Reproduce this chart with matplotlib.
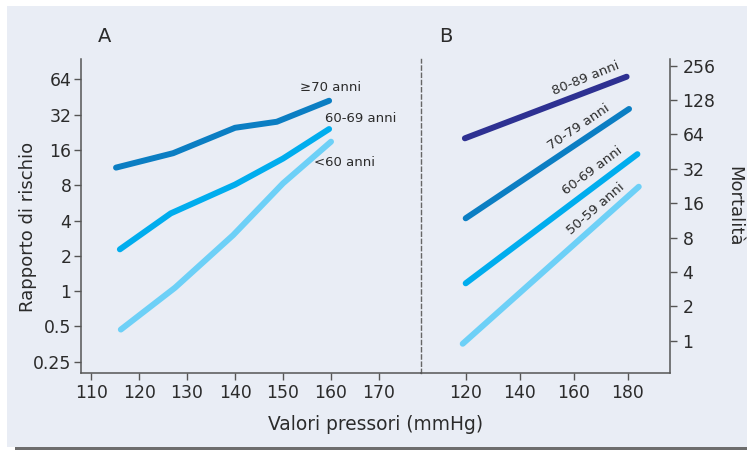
import matplotlib.pyplot as plt
from matplotlib.patches import Rectangle

# Pannello A - rapporto di rischio
a_x_70 = [115.2, 127.1, 140.0, 148.7, 159.6]
a_y_70 = [11.3, 15.0, 24.7, 27.8, 42.0]
a_x_6069 = [116.0, 126.6, 140.0, 150.0, 159.6]
a_y_6069 = [2.27, 4.6, 8.1, 13.5, 24.1]
a_x_60 = [116.2, 127.5, 139.6, 150.0, 160.0]
a_y_60 = [0.47, 1.07, 3.0, 8.3, 18.8]
a_ticks = [0.25, 0.5, 1, 2, 4, 8, 16, 32, 64]
a_ticklabels = ["0.25", "0.5", "1", "2", "4", "8", "16", "32", "64"]
a_xticks = [110, 120, 130, 140, 150, 160, 170]

# Pannello B - mortalità
b_x_8089 = [119.7, 179.6]
b_y_8089 = [59.2, 205.0]
b_x_7079 = [120.0, 180.5]
b_y_7079 = [11.8, 107.0]
b_x_6069 = [120.0, 183.6]
b_y_6069 = [3.18, 43.0]
b_x_5059 = [118.9, 184.1]
b_y_5059 = [0.94, 22.3]
b_ticks = [1, 2, 4, 8, 16, 32, 64, 128, 256]
b_xticks = [120, 140, 160, 180]

c_dark = "#0B7EC3"
c_mid = "#00ADEE"
c_light = "#6DD0F7"
c_indigo = "#2E3192"
bg = "#E9EDF5"
txt = "#2b2b2b"
spine_c = "#555555"

fig = plt.figure(figsize=(7.47, 4.5), dpi=100)
fig.patches.append(Rectangle((7/747, 3/450), 740/747, 441/450, transform=fig.transFigure,
                             facecolor=bg, edgecolor="none", zorder=-10))
fig.patches.append(Rectangle((15/747, 0), 732/747, 3/450, transform=fig.transFigure,
                             facecolor="#6D6D6D", edgecolor="none", zorder=-10))

axA = fig.add_axes([81/747, 77/450, 340/747, 314/450])
axB = fig.add_axes([421/747, 77/450, 249/747, 314/450])

lw = 4.3
for ax in (axA, axB):
    ax.set_facecolor("none")
    for s in ax.spines.values():
        s.set_color(spine_c)
        s.set_linewidth(1.1)
    ax.tick_params(colors=spine_c, labelcolor=txt, length=5, width=1.0, labelsize=12.4, pad=3)
    ax.set_yscale("log", base=2)
    ax.minorticks_off()

# A
axA.plot(a_x_70, a_y_70, color=c_dark, lw=lw, solid_capstyle="round", solid_joinstyle="round")
axA.plot(a_x_6069, a_y_6069, color=c_mid, lw=lw, solid_capstyle="round", solid_joinstyle="round")
axA.plot(a_x_60, a_y_60, color=c_light, lw=lw, solid_capstyle="round", solid_joinstyle="round")
axA.set_xlim(107.9, 178.75)
axA.set_ylim(2 ** -2.32, 2 ** 6.575)
axA.set_xticks(a_xticks)
axA.set_xticklabels([str(v) for v in a_xticks])
axA.set_yticks(a_ticks)
axA.set_yticklabels(a_ticklabels)
axA.minorticks_off()
axA.tick_params(axis="y", pad=2)
axA.spines["top"].set_visible(False)
axA.spines["right"].set_linestyle((0, (3, 2.2)))
axA.spines["right"].set_linewidth(1.0)
axA.spines["right"].set_color("#666666")
axA.tick_params(axis="y", right=False)

axA.text(153.5, 55, "≥70 anni", fontsize=9.5, color=txt, ha="left", va="center")
axA.text(158.75, 29.9, "60-69 anni", fontsize=9.5, color=txt, ha="left", va="center")
axA.text(156.5, 12.4, "<60 anni", fontsize=9.5, color=txt, ha="left", va="center")

# B
axB.plot(b_x_8089, b_y_8089, color=c_indigo, lw=lw, solid_capstyle="round")
axB.plot(b_x_7079, b_y_7079, color=c_dark, lw=lw, solid_capstyle="round")
axB.plot(b_x_6069, b_y_6069, color=c_mid, lw=lw, solid_capstyle="round")
axB.plot(b_x_5059, b_y_5059, color=c_light, lw=lw, solid_capstyle="round")
axB.set_xlim(103.45, 195.67)
axB.set_ylim(2 ** -0.94, 2 ** 8.195)
axB.set_xticks(b_xticks)
axB.set_xticklabels([str(v) for v in b_xticks])
axB.set_yticks(b_ticks)
axB.set_yticklabels([str(v) for v in b_ticks])
axB.minorticks_off()
axB.spines["top"].set_visible(False)
axB.spines["left"].set_visible(False)
axB.yaxis.tick_right()
axB.tick_params(axis="y", pad=4)

lab_kw = dict(fontsize=9.5, color=txt, ha="center", va="center", rotation_mode="anchor")
axB.text(164.6, 200, "80-89 anni", rotation=22, **lab_kw)
axB.text(162.0, 74, "70-79 anni", rotation=34, **lab_kw)
axB.text(166.8, 31, "60-69 anni", rotation=37, **lab_kw)
axB.text(168.3, 14.2, "50-59 anni", rotation=41, **lab_kw)

fig.text(105/747, 1 - 36/450, "A", fontsize=14, color=txt, ha="center", va="center")
fig.text(446/747, 1 - 36/450, "B", fontsize=14, color=txt, ha="center", va="center")
fig.text(28/747, 1 - 227/450, "Rapporto di rischio", fontsize=13, color=txt,
         rotation=90, ha="center", va="center")
fig.text(734/747, 1 - 206/450, "Mortalità", fontsize=13, color=txt,
         rotation=-90, ha="center", va="center")
fig.text(376/747, 1 - 425/450, "Valori pressori (mmHg)", fontsize=13.4, color=txt,
         ha="center", va="center")

fig.savefig("out.png", dpi=100, facecolor="white")
